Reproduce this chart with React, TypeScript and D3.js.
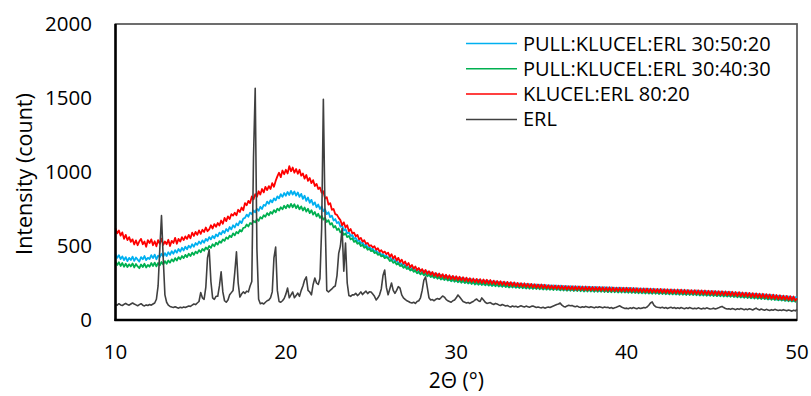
import React, { useEffect, useRef } from 'react';
import * as d3 from 'd3';

// 2theta sampling grid: every 0.1 deg from 10 to 50 (one row = 1 deg)
const TWO_THETA_START = 10;
const TWO_THETA_STEP = 0.1;

const pullKlucel305020 = [
  445, 420, 438, 412, 430, 405, 425, 398, 420, 405,
  428, 400, 422, 408, 395, 425, 410, 432, 405, 420,
  412, 438, 418, 442, 410, 435, 425, 448, 428, 452,
  432, 458, 440, 465, 448, 472, 455, 480, 462, 488,
  470, 495, 478, 502, 488, 512, 495, 520, 508, 530,
  515, 538, 522, 548, 535, 560, 545, 568, 552, 578,
  565, 590, 578, 602, 588, 615, 600, 628, 612, 640,
  625, 652, 640, 668, 655, 685, 690, 712, 698, 725,
  715, 740, 728, 752, 738, 765, 750, 778, 772, 800,
  785, 810, 795, 822, 808, 835, 822, 850, 832, 858,
  840, 865, 845, 872, 848, 868, 840, 862, 832, 852,
  818, 840, 805, 828, 792, 812, 778, 795, 762, 780,
  750, 768, 735, 748, 715, 728, 695, 705, 672, 682,
  655, 662, 630, 640, 605, 615, 585, 592, 568, 575,
  548, 555, 532, 540, 518, 525, 502, 510, 488, 495,
  478, 482, 465, 470, 452, 458, 440, 446, 430, 435,
  415, 432, 402, 420, 390, 408, 378, 396, 366, 385,
  356, 375, 346, 364, 337, 355, 328, 346, 320, 338,
  313, 334, 306, 327, 299, 321, 293, 315, 288, 309,
  282, 305, 278, 300, 274, 296, 270, 293, 266, 290,
  263, 287, 260, 284, 257, 281, 254, 278, 251, 275,
  248, 273, 245, 271, 243, 268, 241, 266, 239, 264,
  237, 262, 235, 260, 233, 258, 231, 256, 229, 254,
  227, 252, 225, 250, 224, 248, 222, 247, 221, 245,
  219, 244, 218, 242, 216, 241, 215, 240, 214, 239,
  212, 237, 211, 236, 210, 235, 209, 234, 208, 233,
  206, 232, 205, 231, 204, 230, 203, 229, 202, 228,
  201, 227, 201, 226, 200, 225, 199, 225, 199, 224,
  198, 224, 197, 223, 196, 222, 196, 222, 195, 221,
  194, 220, 194, 219, 193, 219, 192, 218, 191, 217,
  190, 217, 189, 216, 188, 215, 187, 214, 186, 213,
  185, 212, 184, 211, 183, 210, 183, 209, 182, 208,
  181, 207, 180, 206, 179, 205, 179, 204, 178, 203,
  177, 203, 176, 202, 175, 201, 175, 200, 174, 199,
  173, 199, 172, 198, 171, 197, 170, 196, 169, 195,
  168, 194, 167, 193, 166, 192, 165, 191, 164, 190,
  162, 189, 161, 187, 159, 185, 158, 184, 156, 182,
  155, 181, 153, 179, 151, 177, 150, 176, 148, 174,
  146, 173, 144, 171, 142, 169, 140, 167, 138, 165,
  136, 163, 134, 161, 132, 159, 130, 157, 128, 155,
  152,
];

const pullKlucel304030 = [
  395, 372, 390, 365, 385, 360, 380, 358, 376, 362,
  382, 355, 378, 362, 350, 375, 358, 380, 355, 372,
  360, 385, 365, 388, 362, 385, 370, 392, 375, 398,
  380, 402, 388, 410, 395, 418, 402, 425, 410, 432,
  418, 440, 425, 448, 432, 455, 440, 462, 450, 472,
  458, 480, 468, 490, 478, 500, 488, 512, 498, 522,
  510, 532, 522, 545, 535, 558, 548, 570, 560, 585,
  572, 595, 585, 608, 598, 622, 625, 645, 632, 655,
  648, 670, 660, 682, 670, 695, 685, 708, 698, 722,
  708, 730, 718, 742, 728, 752, 740, 762, 748, 772,
  755, 778, 760, 785, 762, 782, 755, 775, 748, 768,
  740, 760, 732, 752, 722, 742, 712, 730, 700, 718,
  690, 705, 678, 690, 662, 675, 645, 655, 625, 635,
  608, 618, 592, 600, 575, 585, 560, 568, 545, 552,
  528, 535, 515, 522, 500, 508, 488, 495, 475, 482,
  465, 470, 452, 458, 440, 446, 430, 435, 418, 424,
  418, 398, 406, 386, 394, 375, 383, 364, 372, 352,
  364, 344, 354, 334, 344, 325, 335, 316, 327, 308,
  321, 302, 315, 296, 309, 290, 303, 284, 298, 279,
  293, 274, 289, 270, 285, 266, 281, 262, 278, 258,
  275, 255, 272, 252, 269, 249, 266, 246, 263, 243,
  261, 240, 258, 238, 256, 236, 254, 234, 252, 232,
  250, 230, 248, 228, 246, 226, 244, 224, 242, 222,
  240, 220, 239, 219, 237, 217, 236, 216, 234, 214,
  232, 212, 231, 211, 229, 210, 228, 209, 227, 208,
  225, 206, 224, 205, 223, 204, 222, 203, 221, 202,
  219, 200, 218, 199, 217, 198, 216, 197, 215, 196,
  214, 195, 214, 194, 213, 193, 212, 193, 211, 192,
  210, 191, 210, 190, 209, 190, 208, 189, 208, 188,
  207, 187, 206, 187, 206, 186, 205, 185, 204, 185,
  203, 184, 202, 183, 201, 182, 200, 181, 199, 180,
  198, 179, 197, 178, 196, 177, 195, 177, 195, 176,
  194, 175, 193, 174, 192, 173, 191, 173, 191, 172,
  190, 171, 189, 170, 188, 169, 187, 169, 187, 168,
  186, 167, 185, 166, 184, 165, 183, 164, 182, 163,
  181, 162, 180, 161, 179, 160, 178, 159, 177, 158,
  175, 157, 174, 155, 172, 153, 171, 152, 169, 150,
  168, 149, 166, 147, 164, 145, 163, 144, 161, 142,
  159, 141, 157, 139, 155, 137, 153, 135, 151, 133,
  149, 131, 147, 129, 145, 127, 143, 125, 141, 123,
  142,
];

const klucelErl8020 = [
  620, 585, 605, 570, 592, 548, 575, 540, 560, 528,
  545, 510, 538, 505, 532, 548, 512, 530, 495, 540,
  520, 545, 505, 532, 498, 540, 515, 550, 508, 530,
  512, 542, 500, 535, 520, 555, 515, 548, 530, 560,
  540, 565, 548, 575, 552, 590, 568, 595, 575, 605,
  582, 610, 595, 625, 600, 612, 640, 618, 648, 630,
  655, 638, 672, 650, 690, 668, 700, 682, 715, 705,
  725, 708, 745, 730, 760, 742, 790, 775, 805, 790,
  835, 815, 850, 832, 870, 848, 885, 862, 900, 878,
  905, 885, 925, 900, 940, 970, 995, 965, 1010, 985,
  1015, 990, 1040, 1005, 1030, 995, 1020, 988, 1015, 975,
  990, 955, 980, 940, 960, 925, 945, 905, 920, 885,
  895, 860, 870, 820, 830, 780, 790, 745, 750, 715,
  710, 690, 675, 640, 660, 625, 640, 600, 615, 585,
  590, 565, 575, 545, 555, 530, 540, 515, 520, 500,
  505, 490, 498, 475, 485, 462, 472, 455, 462, 445,
  455, 428, 445, 415, 432, 402, 420, 392, 408, 380,
  395, 368, 385, 356, 372, 346, 362, 336, 352, 328,
  344, 318, 338, 312, 330, 306, 325, 298, 318, 294,
  314, 290, 310, 284, 306, 280, 302, 276, 298, 273,
  296, 270, 292, 268, 289, 264, 286, 261, 282, 258,
  280, 256, 278, 253, 276, 250, 274, 248, 272, 246,
  270, 244, 266, 242, 264, 240, 262, 237, 259, 235,
  258, 233, 256, 231, 254, 229, 251, 227, 249, 226,
  248, 224, 246, 222, 244, 220, 242, 218, 240, 217,
  240, 215, 238, 214, 236, 213, 234, 211, 233, 210,
  232, 208, 231, 207, 230, 206, 229, 205, 228, 204,
  228, 203, 227, 203, 226, 202, 226, 201, 225, 200,
  224, 200, 223, 199, 223, 198, 222, 198, 221, 197,
  221, 196, 220, 196, 219, 195, 219, 194, 218, 193,
  218, 193, 217, 192, 216, 191, 215, 190, 214, 189,
  214, 188, 213, 187, 212, 186, 211, 186, 210, 185,
  210, 184, 209, 183, 208, 182, 207, 182, 206, 181,
  206, 180, 205, 179, 204, 178, 203, 178, 202, 177,
  202, 176, 201, 175, 200, 174, 199, 173, 198, 172,
  197, 171, 196, 170, 195, 169, 194, 168, 193, 167,
  192, 165, 191, 164, 189, 162, 188, 161, 186, 159,
  185, 158, 183, 156, 182, 154, 180, 153, 178, 151,
  177, 149, 175, 147, 173, 145, 171, 143, 169, 141,
  167, 139, 165, 137, 163, 135, 161, 133, 159, 131,
  146,
];

const erl = [
  105, 100, 110, 102, 98, 106, 112, 104, 100, 108,
  115, 108, 102, 96, 104, 110, 100, 95, 102, 98,
  105, 100, 108, 115, 140, 230, 480, 705, 420, 170,
  120, 100, 92, 88, 85, 90, 84, 80, 86, 82,
  88, 84, 90, 95, 92, 100, 108, 104, 115, 125,
  185, 150, 140, 220, 420, 475, 260, 150, 140, 160,
  160, 230, 325, 190, 130, 120, 135, 170, 185, 200,
  320, 460, 250, 155, 175, 190, 180, 195, 190, 230,
  260, 1100, 1566, 480, 140, 110, 115, 108, 120, 130,
  135, 150, 190, 420, 493, 200, 125, 120, 130, 145,
  175, 216, 150, 170, 189, 150, 165, 182, 160, 200,
  230, 270, 291, 200, 189, 170, 240, 284, 250, 240,
  280, 620, 1491, 700, 200, 189, 200, 210, 223, 230,
  300, 450, 500, 620, 330, 520, 250, 165, 160, 170,
  170, 180, 165, 175, 190, 172, 185, 195, 178, 190,
  189, 175, 160, 135, 150, 170, 210, 300, 338, 220,
  170, 210, 250, 200, 180, 200, 225, 215, 170, 150,
  140, 130, 125, 118, 115, 120, 112, 125, 130, 150,
  200, 270, 291, 220, 150, 135, 138, 130, 140, 145,
  140, 150, 162, 155, 140, 130, 125, 120, 130, 135,
  150, 169, 155, 140, 125, 120, 115, 118, 112, 120,
  125, 135, 142, 130, 125, 149, 135, 120, 112, 115,
  118, 110, 105, 112, 108, 102, 98, 105, 100, 95,
  98, 92, 88, 95, 90, 93, 87, 91, 96, 92,
  88, 94, 90, 86, 92, 95, 90, 85, 88, 84,
  82, 86, 80, 85, 88, 84, 90, 95, 100, 105,
  108, 115, 100, 92, 88, 95, 100, 96, 98, 92,
  90, 94, 88, 85, 90, 86, 92, 88, 84, 90,
  86, 82, 88, 84, 90, 86, 82, 88, 84, 86,
  80, 84, 78, 82, 86, 92, 96, 88, 82, 78,
  80, 76, 82, 78, 84, 80, 76, 82, 78, 80,
  84, 82, 88, 100, 115, 122, 100, 90, 86, 84,
  82, 86, 80, 84, 78, 82, 86, 80, 84, 78,
  82, 78, 84, 80, 76, 82, 78, 84, 80, 76,
  80, 76, 82, 78, 74, 80, 76, 82, 78, 74,
  76, 80, 74, 78, 82, 88, 92, 84, 78, 74,
  76, 72, 78, 74, 70, 76, 72, 78, 74, 70,
  74, 70, 76, 72, 68, 74, 80, 72, 68, 74,
  70, 66, 72, 68, 64, 70, 66, 72, 68, 64,
  68, 64, 70, 66, 62, 68, 64, 60, 66, 62,
  72,
];

const xTicks = [10, 20, 30, 40, 50];
const yTicks = [0, 500, 1000, 1500, 2000];

const seriesList = [
  { name: 'PULL:KLUCEL:ERL 30:50:20', values: pullKlucel305020, color: '#00B0F0' },
  { name: 'PULL:KLUCEL:ERL 30:40:30', values: pullKlucel304030, color: '#00B050' },
  { name: 'KLUCEL:ERL 80:20', values: klucelErl8020, color: '#FF0000' },
  { name: 'ERL', values: erl, color: '#404040' },
];

const FONT = '"Open Sans", "Liberation Sans", sans-serif';

const XrdChart = () => {
  const ref = useRef<SVGSVGElement | null>(null);

  useEffect(() => {
    if (!ref.current) return;
    const width = 811, height = 396;
    const plot = { left: 115.5, right: 797, top: 24, bottom: 320 };

    const svg = d3.select(ref.current);
    svg.selectAll('*').remove();
    svg.attr('width', width).attr('height', height);

    const x = d3.scaleLinear().domain([10, 50]).range([plot.left, plot.right]);
    const y = d3.scaleLinear().domain([0, 2000]).range([plot.bottom, plot.top]);

    // plot frame
    svg.append('rect')
      .attr('x', plot.left).attr('y', plot.top)
      .attr('width', plot.right - plot.left).attr('height', plot.bottom - plot.top)
      .attr('fill', 'none').attr('stroke', '#595959').attr('stroke-width', 1.75);

    const line = d3.line<number>()
      .x((_, i) => x(TWO_THETA_START + i * TWO_THETA_STEP))
      .y(d => y(d));

    seriesList.forEach(s => {
      svg.append('path')
        .datum(s.values)
        .attr('fill', 'none')
        .attr('stroke', s.color)
        .attr('stroke-width', s.name === 'ERL' ? 1.6 : 1.8)
        .attr('stroke-linejoin', 'round')
        .attr('d', line);
    });

    // left + bottom axis lines are heavier than the frame
    svg.append('line')
      .attr('x1', plot.left).attr('x2', plot.left)
      .attr('y1', plot.top).attr('y2', plot.bottom + 1)
      .attr('stroke', '#000').attr('stroke-width', 2.5);
    svg.append('line')
      .attr('x1', plot.left - 1).attr('x2', plot.right)
      .attr('y1', plot.bottom).attr('y2', plot.bottom)
      .attr('stroke', '#000').attr('stroke-width', 2.5);

    // tick labels
    svg.append('g').selectAll('text')
      .data(yTicks).enter().append('text')
      .attr('x', 92).attr('y', d => y(d))
      .attr('dy', '0.35em')
      .attr('text-anchor', 'end')
      .style('font-family', FONT).style('font-size', '20.5px').attr('fill', '#000')
      .text(d => d);

    svg.append('g').selectAll('text')
      .data(xTicks).enter().append('text')
      .attr('x', d => x(d)).attr('y', 352)
      .attr('dy', '0.35em')
      .attr('text-anchor', 'middle')
      .style('font-family', FONT).style('font-size', '20.5px').attr('fill', '#000')
      .text(d => d);

    // axis titles
    svg.append('text')
      .attr('x', x(30)).attr('y', 381)
      .attr('dy', '0.35em')
      .attr('text-anchor', 'middle')
      .style('font-family', FONT).style('font-size', '21px')
      .text('2Θ (°)');

    svg.append('text')
      .attr('transform', `translate(24, ${(plot.top + plot.bottom) / 2 + 2}) rotate(-90)`)
      .attr('dy', '0.35em')
      .attr('text-anchor', 'middle')
      .style('font-family', FONT).style('font-size', '21.5px')
      .text('Intensity (count)');

    // legend
    const legend = svg.append('g');
    seriesList.forEach((s, i) => {
      const ly = 43.5 + i * 25.3;
      legend.append('line')
        .attr('x1', 466).attr('x2', 517)
        .attr('y1', ly).attr('y2', ly)
        .attr('stroke', s.color).attr('stroke-width', 1.5);
      legend.append('text')
        .attr('x', 523).attr('y', ly)
        .attr('dy', '0.35em')
        .style('font-family', FONT).style('font-size', '20px')
        .text(s.name);
    });
  }, []);

  return <svg ref={ref} style={{ position: 'absolute', left: 0, top: 0 }} />;
};

export default function App() {
  return <XrdChart />;
}
